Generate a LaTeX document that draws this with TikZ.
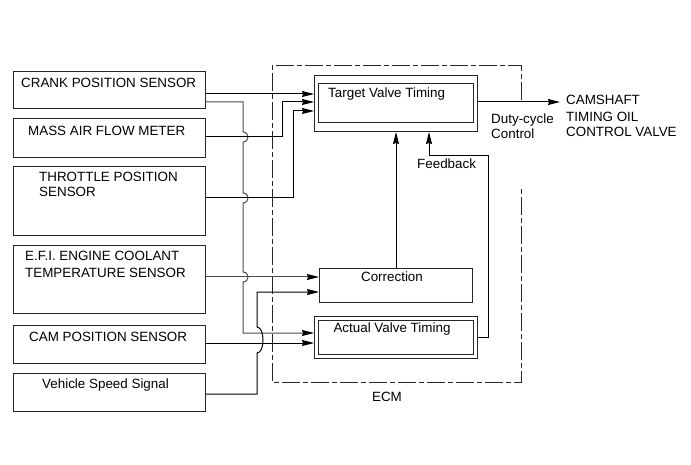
\documentclass[tikz,border=0pt]{standalone}
\usepackage{fontspec}
\setmainfont{Liberation Sans}
\usetikzlibrary{arrows.meta}
\tikzset{
  sbox/.style 2 args={draw=black!85, line width=1pt, anchor=north west, inner sep=0pt, minimum width=#1, minimum height=#2},
  txt/.style={anchor=base west, inner sep=0pt, font=\fontsize{13.4}{16}\selectfont},
  ctxt/.style={anchor=base, inner sep=0pt, font=\fontsize{13.4}{16}\selectfont},
  wire/.style={line width=1pt, draw=black},
  gwire/.style={line width=1pt, draw=black!70},
  arr/.style={wire, -{Stealth[length=12pt, width=6pt, inset=1pt]}},
  garr/.style={gwire, -{Stealth[length=12pt, width=6pt, inset=1pt, color=black]}},
  ecmline/.style={draw=black!85, line width=1pt, dash pattern=on 18pt off 3pt on 5pt off 3pt},
}
\begin{document}
\begin{tikzpicture}[x=1pt,y=-1pt]
\useasboundingbox (0,0) rectangle (691,465);
% ECM frame (open on the right where the output leaves)
\draw[ecmline] (521,100) -- (521,66) -- (272,66) -- (272,382) -- (521,382) -- (521,188);
\node[ctxt] (ecmlbl) at (387,401) {ECM};
% left boxes
\node[sbox={192pt}{37pt}] (crank) at (13,71) {};
\node[sbox={192pt}{39pt}] (maf) at (13,118) {};
\node[sbox={192pt}{69pt}] (tps) at (13,166) {};
\node[sbox={192pt}{68pt}] (efi) at (13,245) {};
\node[sbox={192pt}{38pt}] (cam) at (13,325) {};
\node[sbox={192pt}{38pt}] (vss) at (13,373) {};
\node[txt] (crankl) at (21,88) {CRANK POSITION SENSOR};
\node[txt] (mafl) at (28,136) {MASS AIR FLOW METER};
\node[txt] (tpsl1) at (39,182) {THROTTLE POSITION};
\node[txt] (tpsl2) at (39,197) {SENSOR};
\node[txt] (efil1) at (25,261) {E.F.I. ENGINE COOLANT};
\node[txt] (efil2) at (25,278) {TEMPERATURE SENSOR};
\node[txt] (caml) at (29,341) {CAM POSITION SENSOR};
\node[txt] (vssl) at (42,388) {Vehicle Speed Signal};
% ECM internal boxes
\node[sbox={163pt}{56pt}] (tvt) at (314,75) {};
\node[sbox={155pt}{39pt}] (tvtin) at (318,83) {};
\node[txt] (tvtl) at (328,98) {Target Valve Timing};
\node[sbox={153pt}{34pt}] (corr) at (319,268) {};
\node[ctxt] (corrl) at (392,281) {Correction};
\node[sbox={163pt}{42pt}] (avt) at (314,316) {};
\node[sbox={155pt}{34pt}] (avtin) at (318,320) {};
\node[ctxt] (avtl) at (392,332) {Actual Valve Timing};
\node[txt] (fbl) at (417,169) {Feedback};
\node[txt] (dcl1) at (491,124) {Duty-cycle};
\node[txt] (dcl2) at (491,139) {Control};
\node[txt] (ocv1) at (566,105) {CAMSHAFT};
\node[txt] (ocv2) at (566,122) {TIMING OIL};
\node[txt] (ocv3) at (566,137) {CONTROL VALVE};
\coordinate (outend) at (560,102);
% connectors
\draw[arr] (crank.east |- 0,94) -- (tvt.west |- 0,94);
\draw[garr] (crank.east |- 0,102) -- (243,102) -- (243,132)
  .. controls (249.7,132) and (249.7,142) .. (243,142) -- (243,193)
  .. controls (249.7,193) and (249.7,203) .. (243,203) -- (243,272)
  .. controls (249.7,272) and (249.7,282) .. (243,282) -- (243,333)
  -- (avt.west |- 0,333);
\draw[arr] (maf.east |- 0,137) -- (282,137) -- (282,102) -- (tvt.west |- 0,102);
\draw[arr] (tps.east |- 0,198) -- (293,198) -- (293,111) -- (tvt.west |- 0,111);
\draw[garr] (efi.east |- 0,277) -- (corr.west |- 0,277);
\draw[arr] (cam.east |- 0,343) -- (avt.west |- 0,343);
\draw[arr] (vss.east |- 0,394) -- (257,394) -- (257,353)
  .. controls (265,353) and (265,327) .. (257,327) -- (257,292) -- (corr.west |- 0,292);
\draw[arr] (corr.north -| 396,0) -- (tvt.south -| 396,0);
\draw[arr] (avt.east |- 0,337) -- (488,337) -- (488,156) -- (429,156) -- (tvt.south -| 429,0);
\draw[arr] (tvt.east |- 0,102) -- (outend);
\end{tikzpicture}
\end{document}
